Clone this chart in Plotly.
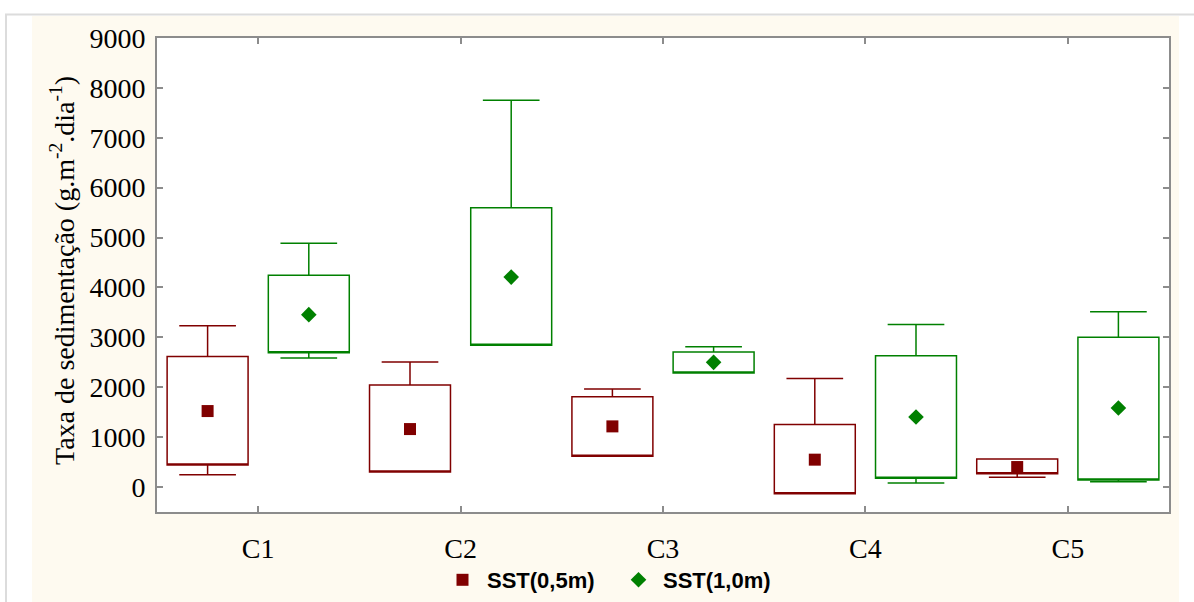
import plotly.graph_objects as go

# Sampling sites and summary statistics of sedimentation rate (g.m-2.dia-1)
categories = ["C1", "C2", "C3", "C4", "C5"]

# SST(0,5m)
sst05_low = [248, 301, 615, -133, 194]
sst05_q1 = [441, 301, 615, -133, 268]
sst05_q3 = [2619, 2044, 1812, 1256, 561]
sst05_high = [3234, 2505, 1964, 2178, 561]
sst05_mean = [1523, 1162, 1216, 549, 401]

# SST(1,0m)
sst10_low = [2585, 2840, 2285, 80, 108]
sst10_q1 = [2693, 2840, 2285, 174, 140]
sst10_q3 = [4243, 5600, 2705, 2633, 3000]
sst10_high = [4884, 7750, 2813, 3260, 3515]
sst10_mean = [3455, 4208, 2499, 1403, 1583]

y_ticks = [0, 1000, 2000, 3000, 4000, 5000, 6000, 7000, 8000, 9000]

RED = "#800000"
GREEN = "#008000"
AXIS_GRAY = "#8c8c8c"
CREAM = "#fefaf0"

W, H = 1194, 602
ML, MR, MT, MB = 157, 25, 38, 90
PW, PH = W - ML - MR, H - MT - MB


def px_x(px):
    return (px - ML) / PW


def px_y(py):
    return (H - MB - py) / PH


OFFSET = 0.25
BOX_W = 0.4
idx = list(range(len(categories)))

fig = go.Figure()

series = [
    ("SST(0,5m)", RED, "square", -OFFSET, sst05_low, sst05_q1, sst05_q3, sst05_high, sst05_mean),
    ("SST(1,0m)", GREEN, "diamond", OFFSET, sst10_low, sst10_q1, sst10_q3, sst10_high, sst10_mean),
]

for name, color, symbol, off, low, q1, q3, high, mean in series:
    xs = [i + off for i in idx]
    fig.add_trace(go.Box(
        x=xs, q1=q1, median=q1, q3=q3, lowerfence=low, upperfence=high,
        width=BOX_W, whiskerwidth=0.7, boxpoints=False,
        line=dict(color=color, width=1.5), fillcolor="rgba(255,255,255,0)",
        showlegend=False, hoverinfo="skip",
    ))
    fig.add_trace(go.Scatter(
        x=xs, y=mean, mode="markers", name=name,
        marker=dict(symbol=symbol, size=12, color=color, line=dict(width=0)),
    ))

serif = "Liberation Serif"

fig.update_layout(
    width=W, height=H,
    margin=dict(l=ML, r=MR, t=MT, b=MB, autoexpand=False),
    paper_bgcolor="white", plot_bgcolor="white",
    font=dict(family=serif, color="black"),
    xaxis=dict(
        range=[-0.5, 4.5], tickvals=idx, ticktext=categories,
        ticks="inside", ticklen=6, tickcolor=AXIS_GRAY, tickwidth=1.5,
        showline=True, linecolor=AXIS_GRAY, linewidth=2, mirror="allticks",
        showgrid=False, zeroline=False,
        tickfont=dict(family=serif, size=28, color="black"),
        ticklabelstandoff=10,
    ),
    yaxis=dict(
        range=[-500, 9000], tickvals=y_ticks,
        ticks="inside", ticklen=6, tickcolor=AXIS_GRAY, tickwidth=1.5,
        showline=True, linecolor=AXIS_GRAY, linewidth=2, mirror="allticks",
        showgrid=False, zeroline=False,
        tickfont=dict(family=serif, size=28, color="black"),
        ticklabelstandoff=4,
    ),
    legend=dict(
        orientation="h", x=px_x(438), y=px_y(580), xanchor="left", yanchor="middle",
        bgcolor="rgba(0,0,0,0)", itemwidth=39, entrywidth=122, entrywidthmode="pixels",
        font=dict(family="Liberation Sans", size=22, color="black", weight="bold"),
    ),
    annotations=[dict(
        text="Taxa de sedimentação (g.m<sup>-2</sup>.dia<sup>-1</sup>)",
        xref="paper", yref="paper", x=px_x(62), y=px_y(271),
        xanchor="center", yanchor="middle", textangle=-90, showarrow=False,
        font=dict(family=serif, size=28, color="black"),
    )],
    shapes=[
        dict(type="rect", xref="paper", yref="paper", layer="below",
             x0=px_x(32), x1=px_x(1179), y0=px_y(16), y1=px_y(H + 5),
             fillcolor=CREAM, line=dict(width=0)),
        dict(type="rect", xref="paper", yref="paper", layer="below",
             x0=0, x1=1, y0=0, y1=1,
             fillcolor="white", line=dict(width=0)),
        dict(type="line", xref="paper", yref="paper", layer="below",
             x0=px_x(5), x1=px_x(W + 5), y0=px_y(14.5), y1=px_y(14.5),
             line=dict(color="#dcdcdc", width=2)),
        dict(type="line", xref="paper", yref="paper", layer="below",
             x0=px_x(6), x1=px_x(6), y0=px_y(14), y1=px_y(H + 5),
             line=dict(color="#dcdcdc", width=2)),
    ],
)

fig.write_html("out.html")
